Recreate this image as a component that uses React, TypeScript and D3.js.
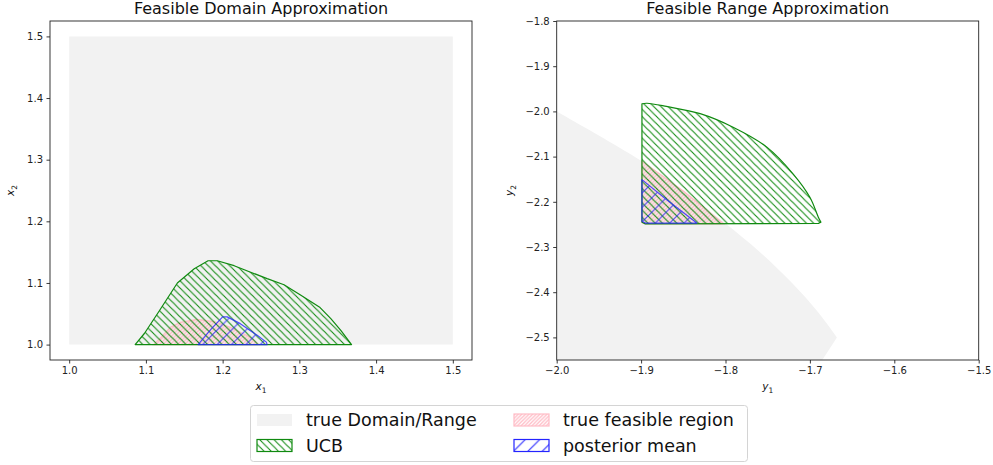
import React, { useEffect, useRef } from "react";
import * as d3 from "d3";

type Pt = [number, number];

// ---- data ----
// curved regions: a smoothed edge followed by straight tail vertices
const domainBox: Pt[] = [[1.0, 1.0], [1.5, 1.0], [1.5, 1.5], [1.0, 1.5]];

const domainUcb: Pt[] = [
  [1.086, 1.0], [1.098, 1.018], [1.115, 1.05], [1.141, 1.1], [1.163, 1.123],
  [1.181, 1.136], [1.193, 1.136], [1.215, 1.128], [1.258, 1.107], [1.28, 1.097],
  [1.302, 1.08], [1.327, 1.06], [1.341, 1.042], [1.354, 1.023], [1.368, 1.0],
];

const domainTrue: Pt[] = [
  [1.11, 1.0], [1.12, 1.012], [1.132, 1.028], [1.145, 1.036], [1.167, 1.041],
  [1.19, 1.037], [1.21, 1.028], [1.236, 1.012], [1.247, 1.0],
];

const domainPost: Pt[] = [
  [1.168, 1.0], [1.185, 1.025], [1.2, 1.045], [1.206, 1.045], [1.223, 1.034],
  [1.245, 1.015], [1.257, 1.004], [1.258, 1.0],
];

const rangeBoxEdge: Pt[] = [
  [-2.0, -2.0], [-1.9, -2.109], [-1.85, -2.176], [-1.8, -2.248], [-1.76, -2.31],
  [-1.72, -2.382], [-1.69, -2.445], [-1.668, -2.5],
];
const rangeBoxTail: Pt[] = [[-1.686, -2.552], [-1.7, -2.6], [-2.0, -2.6]];

const rangeUcbEdge: Pt[] = [
  [-1.899, -1.983], [-1.893, -1.982], [-1.87, -1.989], [-1.83, -2.005], [-1.791, -2.035],
  [-1.751, -2.079], [-1.72, -2.138], [-1.7, -2.19], [-1.69, -2.234], [-1.687, -2.245],
];
const rangeUcbTail: Pt[] = [[-1.69, -2.248], [-1.895, -2.249], [-1.899, -2.245]];

const rangeTrue: Pt[] = [
  [-1.899, -2.11], [-1.85, -2.176], [-1.802, -2.249], [-1.895, -2.249], [-1.899, -2.246],
];

const rangePost: Pt[] = [
  [-1.899, -2.151], [-1.87, -2.195], [-1.834, -2.247], [-1.895, -2.247], [-1.899, -2.243],
];

const domainTicks = [1.0, 1.1, 1.2, 1.3, 1.4, 1.5];
const rangeXTicks = [-2.0, -1.9, -1.8, -1.7, -1.6, -1.5];
const rangeYTicks = [-1.8, -1.9, -2.0, -2.1, -2.2, -2.3, -2.4, -2.5];

const titles = ["Feasible Domain Approximation", "Feasible Range Approximation"];
const legendLabels = ["true Domain/Range", "UCB", "true feasible region", "posterior mean"];

const FONT = "DejaVu Sans, Liberation Sans, sans-serif";
const GRAY = "#f2f2f2";
const GREEN = "#108a10";
const BLUE = "#2424ff";
const PINK = "#ffbcc6";

function App() {
  const ref = useRef<SVGSVGElement>(null);

  useEffect(() => {
    if (!ref.current) return;
    const svg = d3.select(ref.current);
    svg.selectAll("*").remove();

    const defs = svg.append("defs");

    const hatch = (id: string, s: number, dir: "/" | "\\", color: string, w: number) => {
      const p = defs
        .append("pattern")
        .attr("id", id)
        .attr("patternUnits", "userSpaceOnUse")
        .attr("width", s)
        .attr("height", s);
      const d =
        dir === "/"
          ? `M-1,1 L1,-1 M0,${s} L${s},0 M${s - 1},${s + 1} L${s + 1},${s - 1}`
          : `M-1,${s - 1} L1,${s + 1} M0,0 L${s},${s} M${s - 1},-1 L${s + 1},1`;
      p.append("path").attr("d", d).attr("stroke", color).attr("stroke-width", w).attr("fill", "none");
    };
    hatch("h-green", 7.2, "\\", GREEN, 1.1);
    hatch("h-blue", 14.4, "/", BLUE, 1.1);
    hatch("h-pink", 3.6, "/", PINK, 1.3);

    const top = 21;
    const bottom = 360;

    const panels = [
      {
        x0: 50, x1: 472,
        xd: [0.975, 1.525], yd: [0.975, 1.525],
        xt: domainTicks, yt: domainTicks,
        box: [[] as Pt[], domainBox], ucb: [[] as Pt[], domainUcb],
        truth: domainTrue, post: domainPost,
        xl: ["x", "1"], yl: ["x", "2"], ylx: 14,
      },
      {
        x0: 556.7, x1: 978.7,
        xd: [-2.0, -1.5], yd: [-2.55, -1.8],
        xt: rangeXTicks, yt: rangeYTicks,
        box: [rangeBoxEdge, rangeBoxTail], ucb: [rangeUcbEdge, rangeUcbTail],
        truth: rangeTrue, post: rangePost,
        xl: ["y", "1"], yl: ["y", "2"], ylx: 513,
      },
    ];

    panels.forEach((pn, i) => {
      const x = d3.scaleLinear().domain(pn.xd).range([pn.x0, pn.x1]);
      const y = d3.scaleLinear().domain(pn.yd).range([bottom, top]);
      const line = d3
        .line<Pt>()
        .x((d) => x(d[0]))
        .y((d) => y(d[1]))
        .curve(d3.curveLinearClosed);
      const smooth = d3
        .line<Pt>()
        .x((d) => x(d[0]))
        .y((d) => y(d[1]))
        .curve(d3.curveCatmullRom.alpha(0.5));
      const shape = ([edge, tail]: Pt[][]) => {
        if (!edge.length) return line(tail) as string;
        return (smooth(edge) as string) + tail.map((p) => `L${x(p[0])},${y(p[1])}`).join("") + "Z";
      };

      const clipId = `clip-${i}`;
      defs
        .append("clipPath")
        .attr("id", clipId)
        .append("rect")
        .attr("x", pn.x0)
        .attr("y", top)
        .attr("width", pn.x1 - pn.x0)
        .attr("height", bottom - top);

      const g = svg.append("g").attr("clip-path", `url(#${clipId})`);

      g.append("path").attr("d", shape(pn.box)).attr("fill", GRAY);

      g.append("path")
        .attr("d", line(pn.truth))
        .attr("fill", "url(#h-pink)")
        .attr("stroke", PINK)
        .attr("stroke-width", 1.2);

      g.append("path")
        .attr("d", shape(pn.ucb))
        .attr("fill", "url(#h-green)")
        .attr("stroke", GREEN)
        .attr("stroke-width", 1.2)
        .attr("stroke-linejoin", "round");

      g.append("path")
        .attr("d", line(pn.post))
        .attr("fill", "url(#h-blue)")
        .attr("stroke", BLUE)
        .attr("stroke-width", 1.2)
        .attr("stroke-linejoin", "round")
        .attr("opacity", 0.8);

      // spines
      svg
        .append("rect")
        .attr("x", pn.x0)
        .attr("y", top)
        .attr("width", pn.x1 - pn.x0)
        .attr("height", bottom - top)
        .attr("fill", "none")
        .attr("stroke", "#222")
        .attr("stroke-width", 0.9);

      const fmt = d3.format(".1f");
      const xa = svg
        .append("g")
        .attr("transform", `translate(0,${bottom})`)
        .call(d3.axisBottom(x).tickValues(pn.xt).tickSize(3.5).tickPadding(3.5).tickFormat((d) => fmt(d as number)));
      const ya = svg
        .append("g")
        .attr("transform", `translate(${pn.x0},0)`)
        .call(d3.axisLeft(y).tickValues(pn.yt).tickSize(3.5).tickPadding(3.5).tickFormat((d) => fmt(d as number)));
      [xa, ya].forEach((a) => {
        a.select(".domain").remove();
        a.selectAll(".tick line").attr("stroke", "#222").attr("stroke-width", 0.9);
        a.selectAll(".tick text").attr("fill", "#222").style("font-size", "10px").style("font-family", FONT);
      });

      // title
      svg
        .append("text")
        .attr("x", (pn.x0 + pn.x1) / 2)
        .attr("y", 14)
        .attr("text-anchor", "middle")
        .style("font-family", FONT)
        .style("font-size", "16px")
        .attr("fill", "#111")
        .text(titles[i]);

      // axis labels
      const xl = svg
        .append("text")
        .attr("x", (pn.x0 + pn.x1) / 2)
        .attr("y", 390)
        .attr("text-anchor", "middle")
        .style("font-family", FONT)
        .style("font-size", "10.5px")
        .attr("fill", "#111");
      xl.append("tspan").style("font-style", "italic").text(pn.xl[0]);
      xl.append("tspan").attr("dy", 2.5).style("font-size", "7.5px").text(pn.xl[1]);

      const yl = svg
        .append("text")
        .attr("transform", `translate(${pn.ylx},${(top + bottom) / 2}) rotate(-90)`)
        .attr("text-anchor", "middle")
        .style("font-family", FONT)
        .style("font-size", "10.5px")
        .attr("fill", "#111");
      yl.append("tspan").style("font-style", "italic").text(pn.yl[0]);
      yl.append("tspan").attr("dy", 2.5).style("font-size", "7.5px").text(pn.yl[1]);
    });

    // legend
    const lg = svg.append("g");
    lg.append("rect")
      .attr("x", 250.5)
      .attr("y", 405.5)
      .attr("width", 497)
      .attr("height", 56)
      .attr("rx", 3)
      .attr("fill", "#fff")
      .attr("stroke", "#d4d4d4")
      .attr("stroke-width", 1);

    const items = [
      { col: 0, row: 0, fill: GRAY, stroke: "none" },
      { col: 0, row: 1, fill: "url(#h-green)", stroke: GREEN },
      { col: 1, row: 0, fill: "url(#h-pink)", stroke: PINK },
      { col: 1, row: 1, fill: "url(#h-blue)", stroke: BLUE },
    ];
    const colX = [257, 514];
    const rowY = [420, 445.5];
    items.forEach((it, k) => {
      lg.append("rect")
        .attr("x", colX[it.col])
        .attr("y", rowY[it.row] - 6)
        .attr("width", 35)
        .attr("height", 12)
        .attr("fill", it.fill)
        .attr("stroke", it.stroke)
        .attr("stroke-width", 1.2);
      lg.append("text")
        .attr("x", colX[it.col] + 49)
        .attr("y", rowY[it.row] + 6.2)
        .style("font-family", FONT)
        .style("font-size", "17.5px")
        .attr("fill", "#111")
        .text(legendLabels[k]);
    });
  }, []);

  return (
    <div style={{ position: "fixed", left: 0, top: 0 }}>
      <svg ref={ref} width={993} height={465} style={{ display: "block", background: "#fff" }} />
    </div>
  );
}

export default App;
